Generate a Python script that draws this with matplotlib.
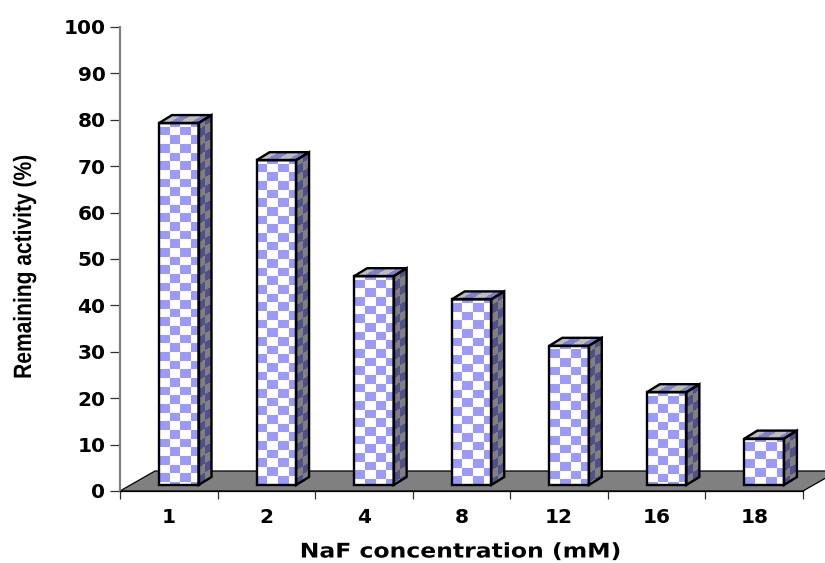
import matplotlib

matplotlib.use("Agg")

import matplotlib.pyplot as plt
import numpy as np
from matplotlib.colors import ListedColormap
from matplotlib.patches import Polygon
from matplotlib.patheffects import AbstractPathEffect
from matplotlib.transforms import Affine2D

concentrations = ["1", "2", "4", "8", "12", "16", "18"]
remaining_activity = [78, 70, 45, 40, 30, 20, 10]
y_ticks = list(range(0, 101, 10))

# pixel sizes of the picture, converted to data units below
PX_X = 7 / 683
PX_Y = 100 / 464
BAR_W = 39.5 * PX_X
BAR_SHIFT = 39 * PX_X
BASE = 6 * PX_Y
DEPTH_X = 13 * PX_X
DEPTH_Y = 8 * PX_Y


class Squeeze(AbstractPathEffect):
    """Scale the glyphs of a text about a fixed display point."""

    def __init__(self, centre, sx=1.0, sy=1.0):
        super().__init__()
        self.centre = centre
        self.sx = sx
        self.sy = sy

    def draw_path(self, renderer, gc, tpath, affine, rgbFace=None):
        cx, cy = self.centre
        squeeze = Affine2D().translate(-cx, -cy).scale(self.sx, self.sy).translate(cx, cy)
        renderer.draw_path(gc, tpath, affine + squeeze, rgbFace)


def checker(ax, x0, y0, u, v, nu, nv, colours, first_u=1.0, first_v=1.0):
    """Fill a skewed quad from (x0, y0) along u and v with a two colour check."""
    s = np.concatenate([[0], first_u + np.arange(int(np.ceil(nu)) + 1)])
    t = np.concatenate([[0], first_v + np.arange(int(np.ceil(nv)) + 1)])
    s = np.clip(s, 0, nu)
    t = np.clip(t, 0, nv)
    ss, tt = np.meshgrid(s, t)
    xx = x0 + ss * u[0] + tt * v[0]
    yy = y0 + ss * u[1] + tt * v[1]
    ii, jj = np.meshgrid(np.arange(len(s) - 1), np.arange(len(t) - 1))
    ax.pcolormesh(xx, yy, (ii + jj) % 2, cmap=ListedColormap(colours),
                  shading="flat", antialiased=False, zorder=3, vmin=0, vmax=1)


def draw_bar(ax, i, value):
    left = i + BAR_SHIFT
    right = left + BAR_W
    top = BASE + value
    cw = 10.7 * PX_X
    ch = 8.67 * PX_Y

    # front face, side face and top face
    checker(ax, left, top, (cw, 0), (0, -ch), BAR_W / cw, value / ch,
            ["#ffffff", "#9999ff"], first_u=1.0, first_v=0.4)
    side_w = DEPTH_X / 2
    checker(ax, right, top, (side_w, DEPTH_Y / 2), (0, -ch), 2, value / ch,
            ["#808080", "#50508c"], first_u=1, first_v=0.8)
    checker(ax, left, top, (cw, 0), (DEPTH_X, DEPTH_Y), BAR_W / cw, 1,
            ["#bdbdbd", "#8080cc"], first_u=1, first_v=1)

    outline = dict(fill=False, edgecolor="black", linewidth=1.7, zorder=4,
                   joinstyle="miter")
    ax.add_patch(Polygon([(left, BASE), (right, BASE), (right, top), (left, top)],
                         **outline))
    ax.add_patch(Polygon([(right, BASE), (right + DEPTH_X, BASE + DEPTH_Y),
                          (right + DEPTH_X, top + DEPTH_Y), (right, top)], **outline))
    ax.add_patch(Polygon([(left, top), (left + DEPTH_X, top + DEPTH_Y),
                          (right + DEPTH_X, top + DEPTH_Y), (right, top)], **outline))


plt.rcParams["font.family"] = ["DejaVu Sans"]
plt.rcParams["font.weight"] = "bold"

fig = plt.figure(figsize=(8.25, 5.63), dpi=100)
ax = fig.add_axes([120 / 825, (563 - 491) / 563, 683 / 825, 464 / 563])
ax.set_xlim(0, 7)
ax.set_ylim(0, 100)

floor_dx = 35 * PX_X
floor_dy = 20 * PX_Y
ax.add_patch(Polygon([(0, 0), (floor_dx, floor_dy), (7 + floor_dx, floor_dy), (7, 0)],
                     facecolor="#808080", edgecolor="black", linewidth=0.9,
                     zorder=1, clip_on=False))

for i, value in enumerate(remaining_activity):
    draw_bar(ax, i, value)

for side in ["top", "right"]:
    ax.spines[side].set_visible(False)
ax.spines["left"].set_color("#808080")
ax.spines["left"].set_linewidth(1.6)
ax.spines["bottom"].set_linewidth(0.9)

ax.set_yticks(y_ticks)
ax.set_xticks(np.arange(8))
ax.set_xticklabels([])
ax.set_xticks(np.arange(7) + 0.5, concentrations, minor=True)
ax.tick_params(axis="x", which="major", length=6, width=0.9, color="#303030")
ax.tick_params(axis="x", which="minor", length=0, pad=12, labelsize=14.5)
ax.tick_params(axis="y", length=7.5, width=0.9, color="#303030", pad=3, labelsize=14.5)

xlabel = fig.text(461 / 825, 1 - 552 / 563, "NaF concentration (mM)", fontsize=14.5,
                  fontweight="bold", ha="center", va="center")
xlabel.set_path_effects([Squeeze((461, 563 - 552), sx=1.167)])
ylabel = fig.text(24 / 825, 1 - 267 / 563, "Remaining activity (%)", fontsize=18,
                  fontweight="bold", rotation=90, ha="center", va="center",
                  family=["Liberation Sans"])
ylabel.set_path_effects([Squeeze((24, 563 - 267), sy=0.84)])

fig.savefig("out.png", dpi=100)
